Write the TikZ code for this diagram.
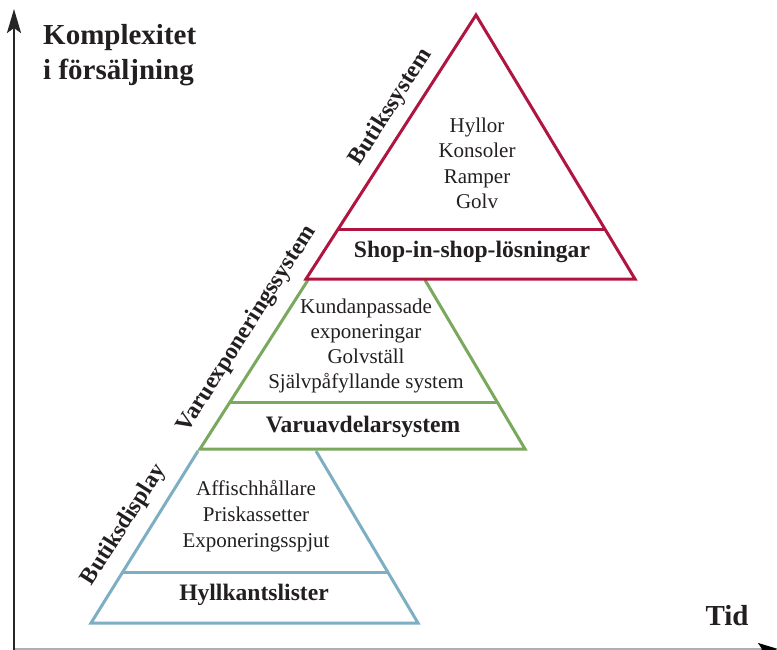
\documentclass[tikz,border=0pt]{standalone}
\usepackage{fontspec}
\setmainfont{Liberation Serif}
\usepackage{tikz}
\usetikzlibrary{arrows.meta}
\usetikzlibrary{calc}
\usetikzlibrary{positioning}

\definecolor{shopred}{RGB}{176,20,64}
\definecolor{varugreen}{RGB}{122,168,92}
\definecolor{displayblue}{RGB}{126,174,194}
\definecolor{axisgray}{RGB}{175,175,175}
\definecolor{textgray}{RGB}{35,31,32}

\begin{document}
\begin{tikzpicture}[x=1pt,y=-1pt,
		item/.style={anchor=base,inner sep=0pt,text=textgray,font=\fontsize{21}{25}\selectfont},
		head/.style={anchor=base,inner sep=0pt,text=textgray,font=\fontsize{23.6}{27}\selectfont\bfseries},
		side/.style={anchor=center,inner sep=0pt,rotate=57.5,text=textgray,font=\fontsize{23.6}{27}\selectfont\bfseries},
		axislabel/.style={inner sep=0pt,text=textgray,font=\fontsize{29}{35}\selectfont\bfseries},
		level/.style={line width=3pt}]
		\useasboundingbox (0,0) rectangle (777,650);
	
		% draw axes
		\coordinate (origin) at (14,649);
		\coordinate (ytop) at (14,9);
		\coordinate (xend) at (778,649);
		\draw[line width=2pt,axisgray,-{Stealth[length=20pt,width=12pt,inset=4pt,color=black]}] (origin) -- (xend);
		\draw[line width=2.5pt,black!85,-{Stealth[length=24pt,width=14pt,inset=5pt]}] (14,650) -- (ytop);
		\node[axislabel,anchor=base west] (ylabel1) at (43,45) {Komplexitet};
		\node[axislabel,anchor=base west] (ylabel2) at (43,80) {i försäljning};
		\node[axislabel,anchor=base] (xlabel) at (727,625) {Tid};
	
		% draw bottom level (blue)
		\coordinate (b-tl) at (198,451);
		\coordinate (b-tr) at (316,451);
		\coordinate (b-bl) at (91,623);
		\coordinate (b-br) at (418,623);
		\draw[level,displayblue] (b-tl) -- (b-bl) -- (b-br) -- (b-tr);
		\draw[level,displayblue] ($(b-tl)!0.709!(b-bl)$) -- ($(b-tr)!0.709!(b-br)$);
	
		% draw middle level (green)
		\coordinate (g-tl) at (308,280);
		\coordinate (g-tr) at (425,280);
		\coordinate (g-bl) at (200,449);
		\coordinate (g-br) at (525,449);
		\draw[level,varugreen] (g-tl) -- (g-bl) -- (g-br) -- (g-tr);
		\draw[level,varugreen] ($(g-tl)!0.722!(g-bl)$) -- ($(g-tr)!0.722!(g-br)$);
	
		% draw top level (red)
		\coordinate (r-top) at (476,15);
		\coordinate (r-left) at (306,279);
		\coordinate (r-right) at (635,279);
		\draw[level,shopred] (r-top) -- (r-left) -- (r-right) -- cycle;
		\draw[level,shopred] ($(r-top)!0.814!(r-left)$) -- ($(r-top)!0.814!(r-right)$);
	
		% texts inside the levels
		\foreach \txt [count=\i] in {Hyllor,Konsoler,Ramper,Golv}
		{
			\node[item] (red-\i) at (477,108+25*\i) {\txt};
		}
		\node[head] (shop) at (472,258) {Shop-in-shop-lösningar};
	
		\foreach \txt [count=\i] in {Kundanpassade,exponeringar,Golvställ,Självpåfyllande system}
		{
			\node[item] (green-\i) at (366,288+25*\i) {\txt};
		}
		\node[head] (varu) at (363,432) {Varuavdelarsystem};
	
		\foreach \txt [count=\i] in {Affischhållare,Priskassetter,Exponeringsspjut}
		{
			\node[item] (blue-\i) at (256,469+26*\i) {\txt};
		}
		\node[head] (hyll) at (254,600) {Hyllkantslister};
	
		% labels along the left edges
		\node[side] (butikssystem) at (391,107) {Butikssystem};
		\node[side] (varuexp) at (247,329) {Varuexponeringssystem};
		\node[side] (butiksdisplay) at (124,525) {Butiksdisplay};
	\end{tikzpicture}
\end{document}
